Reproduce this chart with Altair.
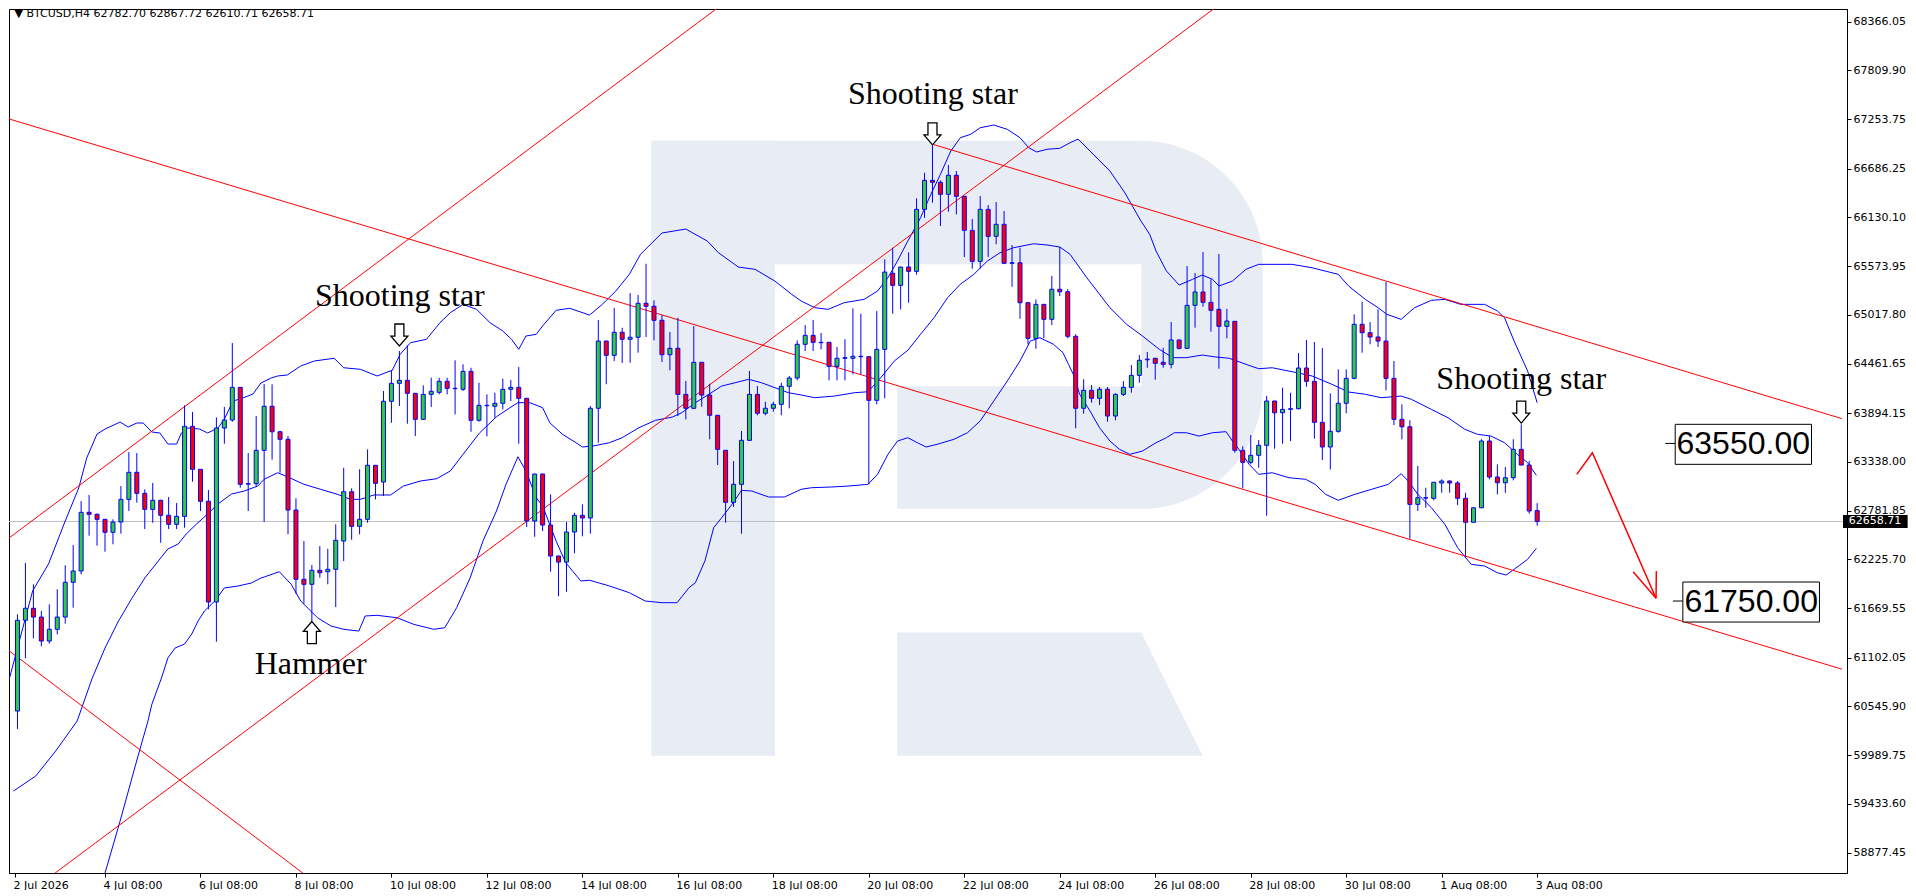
import json
import altair as alt
import pandas as pd

# ---------------- data (BTCUSD, H4; bar index 0 = 4 Jul 08:00) ----------------
bar_index = list(range(-11, 181))
opens = [60494, 61530, 61667, 61567, 61293, 61427, 61567, 61964, 62093, 62763, 62740,
         62683, 62535, 62652, 62911, 63220, 62980, 62797, 62900, 62729, 62626,
         62717, 63745, 63254, 62889, 61739, 63726, 63817, 64190, 63090, 63090,
         63471, 63974, 63683, 63597, 62789, 61998, 61941, 62101, 62085, 62112,
         62435, 62998, 62603, 62683, 63300, 63109, 64031, 64236, 64270, 64122,
         63825, 64110, 64133, 64259, 64179, 64168, 64373, 63814, 63985, 63974,
         64008, 64168, 64190, 64065, 62664, 63200, 62618, 62264, 62195, 62538,
         62729, 62698, 63951, 64719, 64556, 64819, 64739, 64762, 65150, 65116,
         64956, 64563, 64636, 64110, 63951, 64476, 64102, 63871, 63471, 62877,
         63083, 63585, 64110, 63894, 63951, 63996, 64202, 64297, 64682, 64784,
         64704, 64704, 64430, 64522, 64522, 64545, 64540, 64042, 64624, 65493,
         65355, 65564, 65515, 66223, 66554, 66532, 66395, 66612, 66372, 65983,
         65629, 66223, 65915, 66052, 65607, 65613, 65157, 64750, 65138, 64967,
         65310, 65282, 64773, 63951, 64156, 64065, 64168, 63863, 64110, 64190,
         64327, 64505, 64522, 64476, 64453, 64731, 64636, 65127, 65279, 65161,
         65081, 64887, 64944, 63471, 63334, 63414, 63528, 64034, 63900, 63939,
         63946, 64411, 64259, 63791, 63509, 63688, 64008, 64293, 64910, 64814,
         64765, 64719, 64293, 63825, 63740, 62854, 62930, 62923, 63098, 63120,
         63098, 62923, 62649, 62815, 63577, 63166, 63101, 63158, 63482, 63303,
         62782.70]
highs = [61598, 62184, 61941, 61636, 61712, 61884, 62158, 62390, 62892, 62961, 62750,
         62686, 62683, 63063, 63452, 63440, 63026, 63098, 62907, 62938, 62869,
         63985, 63908, 63257, 63018, 63848, 63966, 64696, 64194, 63440, 63863,
         64228, 64225, 63690, 63634, 62923, 62435, 62161, 62378, 62347, 62626,
         63272, 63037, 63254, 63482, 63303, 64148, 64377, 64605, 64670, 64125,
         64213, 64300, 64300, 64300, 64499, 64453, 64414, 64243, 64110, 64129,
         64289, 64274, 64422, 64068, 63205, 63205, 62969, 62268, 62652, 62758,
         62854, 63977, 64959, 64722, 65096, 64871, 65267, 65245, 65602, 65184,
         65016, 64822, 64985, 64262, 64890, 64480, 64232, 63875, 63475, 63349,
         63692, 64377, 64205, 64026, 64026, 64243, 64320, 64727, 64902, 64959,
         64811, 64708, 64651, 64739, 65093, 65031, 64545, 65062, 65652, 65785,
         65568, 65732, 66349, 66641, 66966, 66554, 66729, 66661, 66375, 66112,
         66375, 66272, 66307, 66204, 65816, 65785, 65160, 65195, 65140, 65462,
         65793, 65310, 64796, 64282, 64217, 64194, 64194, 64122, 64262, 64445,
         64559, 64594, 64525, 64643, 64936, 64735, 65576, 65496, 65736, 65424,
         65713, 65085, 64948, 63517, 63646, 63589, 64091, 64038, 64186, 64129,
         64582, 64731, 64708, 64639, 64122, 64396, 64396, 65024, 65168, 64936,
         65081, 65396, 64491, 63996, 63814, 63292, 63044, 63110, 63140, 63129,
         63120, 62987, 62818, 63597, 63634, 63311, 63280, 63597, 63768, 63349,
         62867.72]
lows = [60288, 61096, 61324, 61233, 61263, 61370, 61491, 61674, 62055, 62496, 62382,
        62313, 62398, 62519, 62778, 62873, 62572, 62644, 62416, 62572, 62572,
        62587, 63112, 62778, 61655, 61285, 63546, 63798, 63044, 62778, 63052,
        62652, 63364, 63215, 62512, 61833, 61719, 61522, 62016, 61941, 61681,
        62207, 62450, 62512, 62644, 62911, 62949, 63786, 63977, 63775, 63634,
        63820, 63966, 64110, 64110, 63882, 64148, 63683, 63798, 63631, 63843,
        63939, 64034, 63546, 62595, 62484, 62549, 62085, 61804, 61856, 62295,
        62489, 62519, 63558, 64225, 64491, 64468, 64471, 64586, 64765, 64727,
        64479, 64385, 63863, 63825, 63945, 63969, 63597, 63303, 62644, 62824,
        62519, 63580, 63871, 63871, 63912, 63871, 63951, 64270, 64605, 64605,
        64624, 64270, 64270, 64270, 64339, 64339, 63083, 63996, 64065, 65031,
        65081, 65157, 65476, 66127, 66299, 66033, 66196, 66166, 65679, 65545,
        65545, 65679, 65824, 65605, 65339, 64974, 64682, 64631, 64750, 64902,
        65233, 64750, 63722, 63889, 64015, 63988, 63798, 63814, 64091, 64129,
        64243, 64414, 64277, 64414, 64407, 64624, 64630, 64871, 65111, 64825,
        64403, 64750, 63444, 63037, 63311, 63272, 62724, 63489, 63546, 63577,
        63940, 64197, 63604, 63360, 63252, 63672, 63894, 64282, 64586, 64682,
        64651, 64156, 63760, 63597, 62461, 62778, 62815, 62900, 62987, 62987,
        62846, 62256, 62645, 62810, 63140, 62969, 62987, 63128, 63300, 62747,
        62610.71]
closes = [61530, 61667, 61567, 61293, 61427, 61567, 61964, 62093, 62763, 62740, 62683,
          62535, 62652, 62911, 63220, 62980, 62797, 62900, 62729, 62626, 62717,
          63745, 63254, 62889, 61739, 63726, 63817, 64190, 63083, 63085, 63471,
          63974, 63683, 63597, 62789, 61998, 61941, 62101, 62073, 62112, 62443,
          62998, 62603, 62683, 63300, 63094, 64031, 64236, 64270, 64122, 63825,
          64110, 64145, 64259, 64179, 64175, 64373, 63814, 63985, 63980, 64008,
          64168, 64190, 64065, 62664, 63200, 62618, 62264, 62195, 62538, 62729,
          62698, 63951, 64719, 64556, 64819, 64739, 64762, 65150, 65116, 64956,
          64563, 64636, 64110, 63951, 64476, 64102, 63871, 63482, 62877, 63083,
          63585, 64110, 63894, 63951, 63996, 64202, 64297, 64682, 64784, 64704,
          64700, 64430, 64522, 64530, 64545, 64540, 64042, 64624, 65507, 65355,
          65564, 65515, 66223, 66554, 66532, 66395, 66612, 66372, 65983, 65629,
          66223, 65915, 66052, 65607, 65613, 65157, 64750, 65138, 64967, 65310,
          65282, 64773, 63951, 64156, 64065, 64168, 63863, 64110, 64190, 64327,
          64499, 64512, 64465, 64453, 64731, 64636, 65127, 65279, 65161, 65070,
          64887, 64948, 63471, 63334, 63414, 63528, 64034, 63900, 63939, 63946,
          64411, 64259, 63791, 63509, 63688, 64008, 64293, 64910, 64814, 64765,
          64719, 64293, 63825, 63740, 62854, 62930, 62925, 63106, 63120, 63098,
          62923, 62649, 62815, 63577, 63166, 63101, 63158, 63482, 63303, 62778,
          62658.71]

# Bollinger bands (bar index, price)
bb_upper_i = [-12.1, -9.1, -7.1, -5.0, -3.3, -2.3, -1.0, 0.0, 1.9, 2.9, 4.0, 4.8, 5.9, 6.9, 7.9, 9.0,
              9.6, 10.4, 11.9, 12.9, 14.2, 15.0, 16.1, 17.3, 18.6, 19.6, 20.9, 21.7, 22.9, 24.6, 26.3,
              28.8, 30.0, 32.1, 34.2, 36.1, 37.1, 38.4, 40.4, 42.1, 43.4, 45.0, 46.7, 48.4, 50.0, 51.1,
              52.0, 52.9, 54.2, 55.0, 56.7, 58.4, 60.9, 62.5, 64.2, 65.9, 67.3, 70.0, 73.0, 75.7, 77.1,
              79.6, 81.7, 84.2, 86.3, 87.5, 89.2, 90.9, 92.9, 95.4, 97.1, 98.4, 99.6, 100.9, 102.5, 103.8,
              105.0, 106.3, 107.5, 108.8, 110.0, 111.7, 113.4, 115.0, 116.1, 117.1, 118.4, 120.0, 121.3,
              122.3, 123.8, 126.3, 128.2, 130.2, 131.3, 132.1, 133.4, 135.0, 136.7, 137.9, 139.2, 140.0,
              141.7, 143.4, 145.0, 149.2, 151.7, 155.0, 156.3, 158.4, 160.0, 161.1, 162.9, 164.6, 166.7,
              168.4, 170.4, 173.4, 175.0, 175.9, 177.1, 178.8, 180.0]
bb_upper_p = [60836, 61864, 62173, 62664, 63041, 63383, 63657, 63714, 63794, 63737, 63783, 63783, 63680,
              63669, 63543, 63543, 63669, 63726, 63714, 63669, 63726, 63828, 64034, 64068, 64114, 64240,
              64297, 64320, 64331, 64434, 64491, 64522, 64414, 64396, 64320, 64385, 64568, 64700, 64739,
              64928, 65043, 65138, 65081, 64928, 64833, 64739, 64625, 64776, 64796, 64891, 65070, 65093,
              65016, 65138, 65290, 65481, 65709, 65953, 65998, 65861, 65728, 65564, 65538, 65404, 65253,
              65176, 65100, 65081, 65157, 65195, 65290, 65442, 65633, 65861, 66127, 66395, 66623, 66889,
              67041, 67080, 67155, 67186, 67137, 67041, 66927, 66878, 66909, 66920, 66984, 67026, 66889,
              66661, 66409, 66090, 65938, 65747, 65519, 65359, 65424, 65473, 65424, 65347, 65404, 65538,
              65595, 65595, 65556, 65481, 65347, 65195, 65100, 65024, 64967, 65100, 65184, 65195, 65138,
              65138, 65062, 64985, 64719, 64377, 64015]
bb_mid_i = [-11.5, -8.7, -6.2, -3.5, -1.6, 0.0, 1.7, 3.4, 5.0, 6.7, 7.9, 9.2, 10.2, 11.5, 12.9, 14.2,
            15.9, 17.5, 19.2, 20.0, 21.7, 22.9, 25.0, 27.1, 29.2, 30.9, 32.1, 33.8, 35.9, 37.5, 39.6,
            41.7, 43.4, 45.0, 47.1, 49.2, 50.9, 51.9, 53.4, 55.0, 55.9, 57.5, 59.2, 60.0, 61.3, 63.4,
            65.0, 67.1, 69.2, 71.3, 72.5, 74.2, 75.9, 77.5, 79.2, 80.9, 82.5, 84.2, 85.9, 87.5, 89.2,
            91.7, 94.2, 95.9, 97.5, 99.2, 100.9, 102.5, 104.2, 105.9, 107.5, 109.2, 110.9, 112.5, 114.2,
            116.7, 118.4, 120.0, 121.3, 123.4, 126.3, 128.4, 130.4, 132.5, 134.2, 135.9, 137.9, 139.6,
            141.3, 143.4, 145.0, 146.7, 149.2, 151.7, 154.2, 156.3, 158.4, 160.4, 162.9, 164.2, 166.7,
            168.8, 170.9, 172.5, 174.2, 175.9, 177.5, 178.8, 179.9]
bb_mid_p = [59580, 59752, 60037, 60380, 60871, 61213, 61522, 61784, 62013, 62207, 62344, 62401, 62515,
            62629, 62744, 62858, 62972, 63006, 63063, 63140, 63215, 63170, 63083, 63026, 62969, 62911,
            62911, 62961, 62961, 63063, 63120, 63147, 63235, 63425, 63672, 63855, 63958, 64015, 64015,
            63958, 63786, 63654, 63558, 63509, 63520, 63558, 63615, 63729, 63814, 63851, 63901, 64015,
            64111, 64205, 64243, 64282, 64243, 64186, 64129, 64103, 64072, 64091, 64129, 64140, 64300,
            64491, 64613, 64796, 64986, 65214, 65367, 65481, 65633, 65728, 65785, 65830, 65816, 65793,
            65709, 65442, 65100, 64910, 64776, 64625, 64529, 64529, 64559, 64537, 64522, 64453, 64403,
            64414, 64369, 64320, 64225, 64137, 64111, 64072, 64091, 64053, 63939, 63843, 63711, 63654,
            63634, 63558, 63425, 63330, 63185]
bb_low_i = [0.0, 1.9, 3.8, 5.4, 5.9, 7.1, 7.9, 8.8, 10.0, 10.9, 11.7, 12.5, 13.8, 15.0, 16.7, 18.4,
            19.6, 20.0, 21.9, 23.4, 24.6, 26.7, 28.4, 30.0, 31.9, 32.7, 34.2, 36.7, 38.8, 41.3, 42.7,
            44.2, 45.9, 47.5, 49.2, 50.4, 51.9, 52.9, 54.2, 55.0, 56.7, 57.9, 59.8, 60.9, 63.4, 65.9,
            67.9, 70.0, 71.9, 73.4, 74.2, 75.4, 76.5, 77.5, 78.8, 80.0, 81.3, 83.4, 85.4, 87.5, 88.8,
            91.3, 93.4, 95.9, 97.1, 98.4, 99.6, 100.9, 102.1, 103.2, 104.6, 106.7, 108.4, 110.0, 111.7,
            113.4, 115.0, 116.3, 117.5, 119.2, 120.4, 121.1, 121.7, 122.5, 123.8, 125.0, 126.3, 127.5,
            128.8, 130.4, 132.1, 133.4, 134.4, 135.9, 137.5, 139.2, 140.9, 141.7, 142.5, 143.8, 145.0,
            146.7, 148.8, 150.9, 152.1, 153.4, 155.0, 157.1, 159.2, 161.3, 162.9, 163.8, 165.0, 166.7,
            168.4, 170.0, 171.7, 173.4, 175.0, 176.1, 177.1, 178.8, 179.9]
bb_low_p = [58644, 59238, 59866, 60380, 60574, 60871, 61099, 61213, 61259, 61373, 61522, 61636, 61750,
            61899, 61921, 61956, 62013, 62024, 62085, 61941, 61750, 61559, 61465, 61427, 61407, 61579,
            61587, 61559, 61484, 61427, 61445, 61674, 62016, 62435, 62778, 63083, 63398, 63235, 62930,
            62835, 62435, 62188, 61979, 61987, 61922, 61845, 61750, 61731, 61731, 61902, 61959, 62207,
            62587, 62701, 62854, 63014, 63006, 62938, 62938, 63026, 63044, 63052, 63063, 63083, 63197,
            63425, 63577, 63615, 63558, 63509, 63540, 63597, 63672, 63806, 64034, 64262, 64491, 64719,
            64757, 64682, 64586, 64453, 64339, 64111, 63920, 63729, 63577, 63483, 63425, 63463, 63558,
            63615, 63672, 63672, 63634, 63672, 63684, 63577, 63483, 63311, 63197, 63215, 63158, 63140,
            63083, 62969, 62900, 62969, 63026, 63083, 63204, 63120, 62969, 62816, 62626, 62359, 62169,
            62150, 62073, 62047, 62112, 62226, 62352]

# trend lines drawn on the chart (two anchor points each: bar index, price)
trend_names = ["rise_upper", "rise_lower", "fall_long", "fall_top", "fall_left"]
trend_i1 = [-12.44, -7.44, -12.44, 104.03, -12.44]
trend_p1 = [62444, 58564, 67266, 66966, 61208]
trend_i2 = [80.06, 142.56, 218.3, 218.3, 27.56]
trend_p2 = [68732, 68731, 60972, 63833, 58458]

# forecast arrow (bar index, price)
fc_seg = ["path", "path", "path", "head1", "head1", "head2", "head2"]
fc_i = [184.98, 186.94, 194.94, 192.06, 194.94, 194.98, 194.94]
fc_p = [63197, 63444, 61781, 62085, 61781, 62093, 61781]

target_levels = [63550.00, 61750.00]
last_price = 62658.71
header = "\u25bc BTCUSD,H4  62782.70 62867.72 62610.71 62658.71"

pattern_labels = ["Shooting star", "Shooting star", "Shooting star"]
pattern_bars = [37, 104, 178]
hammer_bar = 26

x_tick_pos = [-11.3, 0, 12, 24, 36, 48, 60, 72, 84, 96, 108, 120, 132, 144, 156, 168, 180]
x_tick_labels = ["2 Jul 2026", "4 Jul 08:00", "6 Jul 08:00", "8 Jul 08:00", "10 Jul 08:00",
                 "12 Jul 08:00", "14 Jul 08:00", "16 Jul 08:00", "18 Jul 08:00", "20 Jul 08:00",
                 "22 Jul 08:00", "24 Jul 08:00", "26 Jul 08:00", "28 Jul 08:00", "30 Jul 08:00",
                 "1 Aug 08:00", "3 Aug 08:00"]
y_ticks = [68366.05, 67809.90, 67253.75, 66686.25, 66130.10, 65573.95, 65017.80, 64461.65,
           63894.15, 63338.00, 62781.85, 62225.70, 61669.55, 61102.05, 60545.90, 59989.75,
           59433.60, 58877.45]

# ---------------- scales / axes ----------------
X0, X1 = -11.4375, 218.3125
Y0, Y1 = 58644, 68511
xs = alt.Scale(domain=[X0, X1], nice=False, zero=False)
ys = alt.Scale(domain=[Y0, Y1], nice=False, zero=False)

label_expr = f"{json.dumps(x_tick_labels)}[indexof({json.dumps(x_tick_pos)}, datum.value)]"
xaxis = alt.Axis(values=x_tick_pos, labelExpr=label_expr, labelAlign="left", labelOffset=-2,
                 labelBaseline="top", tickSize=4, labelPadding=2, grid=False, title=None,
                 labelOverlap=False, labelFlush=False, labelFont="DejaVu Sans", labelFontSize=11,
                 labelColor="black", tickColor="black", domainColor="black")
yaxis = alt.Axis(orient="right", values=y_ticks, format=".2f", tickSize=4, labelPadding=2,
                 grid=False, title=None, labelOverlap=False, labelFlush=False,
                 labelFont="DejaVu Sans", labelFontSize=11, labelColor="black",
                 tickColor="black", domainColor="black")


def X(f):
    return alt.X(f"{f}:Q", scale=xs, axis=xaxis)


def Y(f):
    return alt.Y(f"{f}:Q", scale=ys, axis=yaxis)


WM = "#E8ECF4"
BLUE = "#0000FF"
RED = "#FF0000"
GREEN = "#32CD32"

# ---------------- watermark logo (background decoration, in chart coordinates) ----------------
wm_bowl = pd.DataFrame({"x1": [68.675], "x2": [145.49], "y1": [62800], "y2": [67005]})
wm_stem = pd.DataFrame({"x1": [68.675], "x2": [84.2], "y1": [59983], "y2": [67005]})
wm_holes = pd.DataFrame({"x1": [84.2, 84.2], "x2": [130.24, 99.56], "y1": [64203, 62790], "y2": [65597, 64203]})
wm_leg = pd.DataFrame({"x": [99.56, 130.24, 137.96], "yt": [61391, 61391, 59983], "yb": [59983, 59983, 59983]})

layers = []
layers.append(alt.Chart(wm_bowl).mark_rect(color=WM, cornerRadiusTopRight=122, cornerRadiusBottomRight=122)
              .encode(x=X("x1"), x2="x2:Q", y=Y("y1"), y2="y2:Q"))
layers.append(alt.Chart(wm_stem).mark_rect(color=WM).encode(x=X("x1"), x2="x2:Q", y=Y("y1"), y2="y2:Q"))
layers.append(alt.Chart(wm_holes).mark_rect(color="white").encode(x=X("x1"), x2="x2:Q", y=Y("y1"), y2="y2:Q"))
layers.append(alt.Chart(wm_leg).mark_area(color=WM, opacity=1).encode(x=X("x"), y=Y("yt"), y2="yb:Q"))

# current price line
layers.append(alt.Chart(pd.DataFrame({"p": [last_price]})).mark_rule(color="#C0C0C0", strokeWidth=1)
              .encode(y=Y("p")))

# Bollinger bands
bands = pd.concat([
    pd.DataFrame({"band": "upper", "i": bb_upper_i, "p": bb_upper_p, "o": range(len(bb_upper_i))}),
    pd.DataFrame({"band": "mid", "i": bb_mid_i, "p": bb_mid_p, "o": range(len(bb_mid_i))}),
    pd.DataFrame({"band": "lower", "i": bb_low_i, "p": bb_low_p, "o": range(len(bb_low_i))}),
])
layers.append(alt.Chart(bands).mark_line(color=BLUE, strokeWidth=1, clip=True)
              .encode(x=X("i"), y=Y("p"), detail="band:N", order="o:Q"))

# trend lines
trend = pd.DataFrame({"name": trend_names * 2, "i": trend_i1 + trend_i2, "p": trend_p1 + trend_p2,
                      "o": [0] * 5 + [1] * 5})
layers.append(alt.Chart(trend).mark_line(color=RED, strokeWidth=1, clip=True)
              .encode(x=X("i"), y=Y("p"), detail="name:N", order="o:Q"))

# candles
df = pd.DataFrame({"i": bar_index, "open": opens, "high": highs, "low": lows, "close": closes})
base = alt.Chart(df)
layers.append(base.mark_rule(color=BLUE, strokeWidth=1, clip=True)
              .encode(x=X("i"), y=Y("low"), y2="high:Q"))
layers.append(base.mark_bar(size=4, stroke=BLUE, strokeWidth=1, clip=True)
              .encode(x=X("i"), y=Y("open"), y2="close:Q",
                      fill=alt.condition("datum.close >= datum.open", alt.value(GREEN), alt.value(RED))))

# forecast arrow
fc = pd.DataFrame({"seg": fc_seg, "i": fc_i, "p": fc_p, "o": range(len(fc_i))})
layers.append(alt.Chart(fc).mark_line(color=RED, strokeWidth=1.5)
              .encode(x=X("i"), y=Y("p"), detail="seg:N", order="o:Q"))

# pattern annotations
ann = pd.DataFrame({"t": pattern_labels + ["Hammer"],
                    "i": [37.06, 104.06, 178.0, 18.81],
                    "p": [65119, 67426, 64171, 60916],
                    "a": ["center", "center", "center", "left"]})
layers.append(alt.Chart(ann[ann.a == "center"]).mark_text(font="Liberation Serif", fontSize=32,
                                                          align="center", baseline="alphabetic", color="black")
              .encode(x=X("i"), y=Y("p"), text="t:N"))
layers.append(alt.Chart(ann[ann.a == "left"]).mark_text(font="Liberation Serif", fontSize=32,
                                                        align="left", baseline="alphabetic", color="black")
              .encode(x=X("i"), y=Y("p"), text="t:N"))

down_arrow = "M -0.41 -1 L 0.41 -1 L 0.41 0.1 L 0.77 0.1 L 0 1 L -0.77 0.1 L -0.41 0.1 Z"
up_arrow = "M -0.41 1 L 0.41 1 L 0.41 -0.1 L 0.77 -0.1 L 0 -1 L -0.77 -0.1 L -0.41 -0.1 Z"
arr_dn = pd.DataFrame({"i": pattern_bars, "p": [64788, 67085, 63908]})
arr_up = pd.DataFrame({"i": [hammer_bar], "p": [61390]})
layers.append(alt.Chart(arr_dn).mark_point(shape=down_arrow, size=484, fill="white", stroke="black",
                                           strokeWidth=1.3, opacity=1, fillOpacity=1)
              .encode(x=X("i"), y=Y("p")))
layers.append(alt.Chart(arr_up).mark_point(shape=up_arrow, size=484, fill="white", stroke="black",
                                           strokeWidth=1.3, opacity=1, fillOpacity=1)
              .encode(x=X("i"), y=Y("p")))

# target price boxes
boxes = pd.DataFrame({"lvl": target_levels, "x1": [197.35, 198.31], "x2": [214.48, 215.48],
                      "y1": [63311, 61510], "y2": [63768, 61967],
                      "d1": [196.1, 197.06], "tx": [205.9, 206.9], "ty": [63540, 61739]})
layers.append(alt.Chart(boxes).mark_rule(color="black", strokeWidth=1)
              .encode(x=X("d1"), x2="x1:Q", y=Y("lvl")))
layers.append(alt.Chart(boxes).mark_rect(fill="white", stroke="black", strokeWidth=1)
              .encode(x=X("x1"), x2="x2:Q", y=Y("y1"), y2="y2:Q"))
layers.append(alt.Chart(boxes).mark_text(font="Liberation Sans", fontSize=32, align="center",
                                         baseline="middle", color="black")
              .encode(x=X("tx"), y=Y("ty"), text=alt.Text("lvl:Q", format=".2f")))

# last price tag on the axis
tag = pd.DataFrame({"x1": [218.44], "x2": [226.56], "y1": [62584], "y2": [62732], "tx": [219.15],
                    "p": [last_price]})
layers.append(alt.Chart(tag).mark_rect(fill="black").encode(x=X("x1"), x2="x2:Q", y=Y("y1"), y2="y2:Q"))
layers.append(alt.Chart(tag).mark_text(font="DejaVu Sans", fontSize=11, align="left", baseline="middle",
                                       color="white")
              .encode(x=X("tx"), y=Y("p"), text=alt.Text("p:Q", format=".2f")))

# header
hdr = pd.DataFrame({"i": [-11.375], "p": [68453], "t": [header]})
layers.append(alt.Chart(hdr).mark_text(font="DejaVu Sans", fontSize=11, align="left", baseline="middle",
                                       color="black")
              .encode(x=X("i"), y=Y("p"), text="t:N"))

chart = (alt.layer(*layers)
         .properties(width=1838, height=864, padding=0, background="white")
         .configure_view(stroke="black", strokeWidth=1))

chart.save("out.html", embed_options={"renderer": "svg", "actions": False})
